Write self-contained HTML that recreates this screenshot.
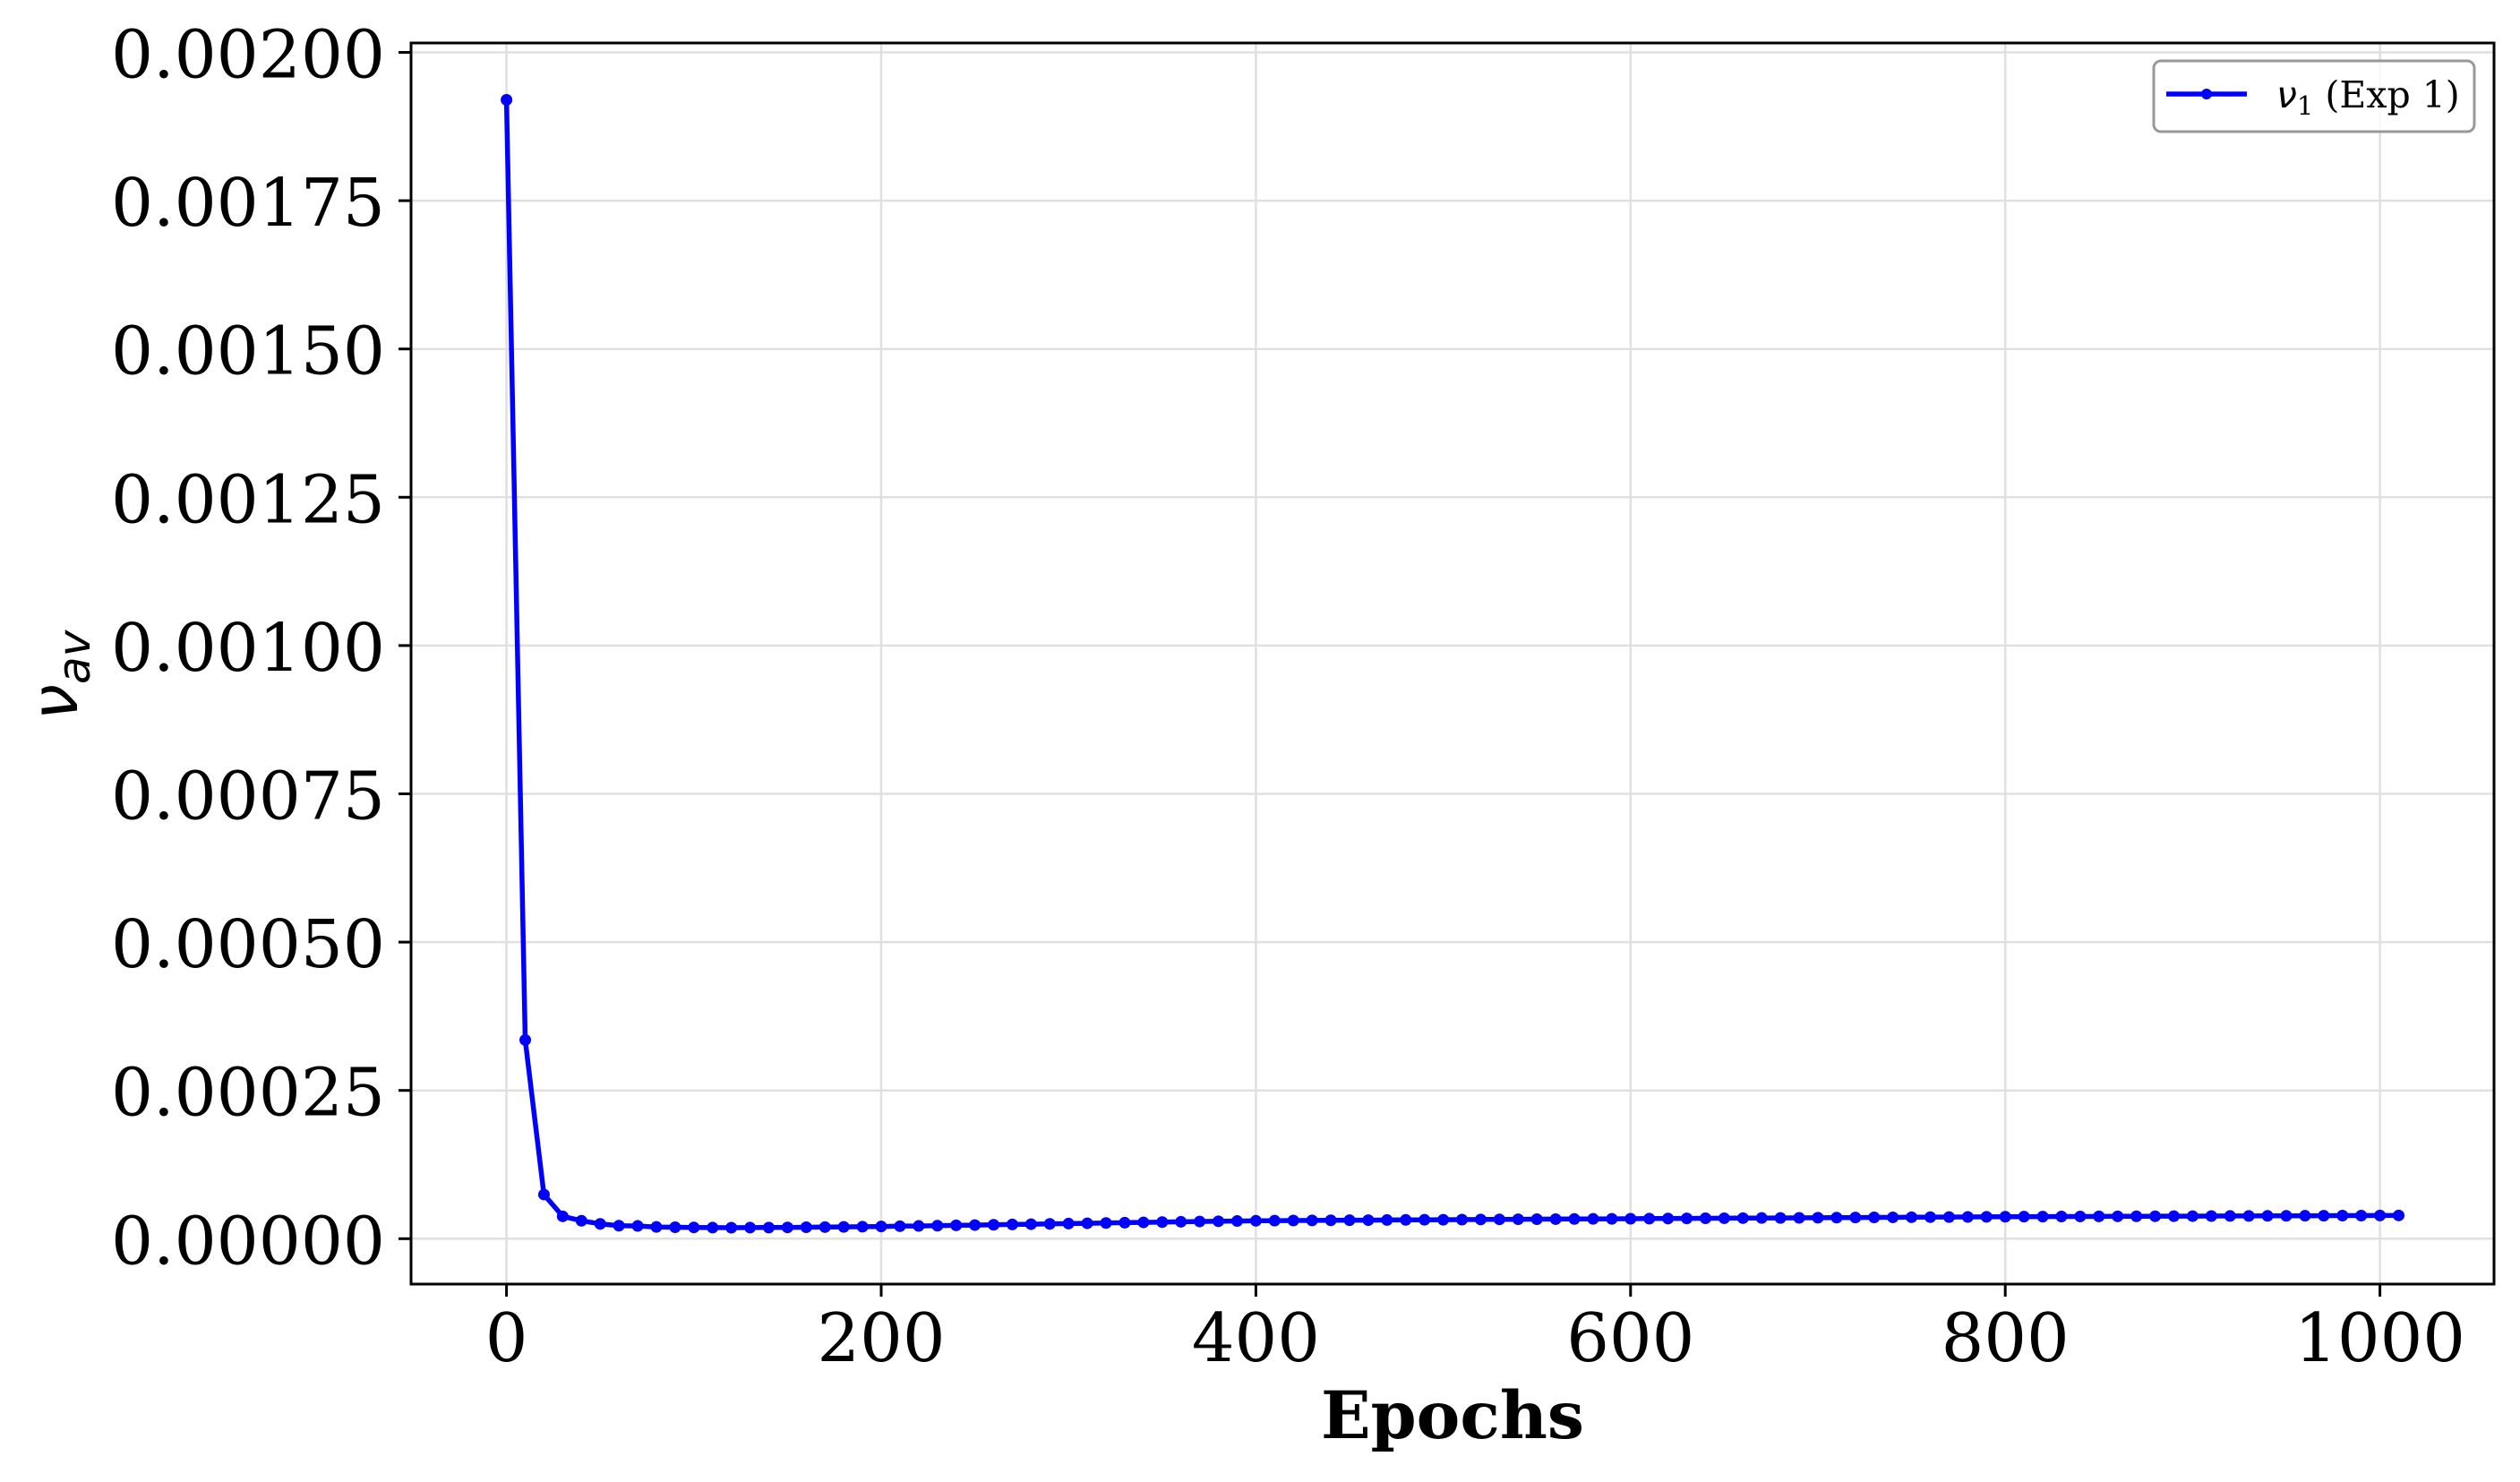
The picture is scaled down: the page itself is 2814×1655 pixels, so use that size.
<!DOCTYPE html>
<html><head><meta charset="utf-8"><style>
html,body{margin:0;padding:0;background:#fff;}
svg{display:block;}
text{font-family:"DejaVu Serif","Liberation Serif",serif;fill:#000;}
</style></head><body>
<svg id="chart" width="2814" height="1655" viewBox="0 0 2814 1655" xmlns="http://www.w3.org/2000/svg">
<rect x="0" y="0" width="2814" height="1655" fill="#fff"/>
<g id="grid"></g>
<g id="series"></g>
<rect x="459" y="48" width="2326" height="1386" fill="none" stroke="#000" stroke-width="3"/>
<g id="xticks"></g>
<g id="yticks"></g>
<text x="1622" y="1606" font-size="73" font-weight="bold" text-anchor="middle">Epochs</text>
<text transform="translate(86,754) rotate(-90)" font-size="72" font-style="italic" text-anchor="middle" style="font-family:'DejaVu Sans',sans-serif">ν<tspan font-size="50" dy="14">av</tspan></text>
<g>
<rect x="2405" y="68" width="358" height="79" rx="8" fill="#fff" fill-opacity="0.8" stroke="#999" stroke-width="3"/>
<line x1="2419" y1="105" x2="2509" y2="105" stroke="#0000ff" stroke-width="5.5"/>
<circle cx="2464" cy="105" r="6" fill="#0000ff"/>
<text x="2542" y="120" font-size="41"><tspan font-style="italic" style="font-family:'DejaVu Sans',sans-serif">ν</tspan><tspan font-size="29" dy="8">1</tspan><tspan dy="-8"> (Exp 1)</tspan></text>
</g>
</svg>
<script>
const epochs = [];
for (let i = 0; i <= 101; i++) epochs.push(i * 10);
const nuValues = [0.00192,0.000335,0.0000745,0.0000377,0.0000302,0.000025,0.000022,0.0000215,0.0000198,0.0000193,
0.000019,0.0000187,0.0000186,0.0000187,0.0000188,0.000019,0.0000193,0.0000196,0.0000199,0.0000202,
0.0000206,0.0000211,0.0000215,0.000022,0.0000225,0.000023,0.0000235,0.000024,0.0000245,0.000025,
0.0000255,0.000026,0.0000265,0.000027,0.0000275,0.000028,0.0000285,0.000029,0.0000294,0.0000298,
0.0000302,0.0000304,0.0000306,0.0000308,0.000031,0.0000312,0.0000313,0.0000315,0.0000317,0.0000319,
0.000032,0.0000322,0.0000324,0.0000326,0.0000328,0.0000329,0.000033,0.0000332,0.0000334,0.0000335,
0.0000337,0.0000339,0.000034,0.0000342,0.0000344,0.0000345,0.0000347,0.0000349,0.000035,0.0000352,
0.0000354,0.0000355,0.0000357,0.0000359,0.000036,0.0000362,0.0000364,0.0000365,0.0000367,0.0000369,
0.0000371,0.0000372,0.0000373,0.0000374,0.0000375,0.0000376,0.0000377,0.0000378,0.0000379,0.000038,
0.0000381,0.0000382,0.0000383,0.0000384,0.0000385,0.0000386,0.0000387,0.0000388,0.0000389,0.000039,
0.0000391,0.0000392];
const xTicks = [0,200,400,600,800,1000];
const xTickLabels = ["0","200","400","600","800","1000"];
const yTicks = [0,0.00025,0.0005,0.00075,0.001,0.00125,0.0015,0.00175,0.002];
const yTickLabels = ["0.00000","0.00025","0.00050","0.00075","0.00100","0.00125","0.00150","0.00175","0.00200"];

const NS = "http://www.w3.org/2000/svg";
const L = 459, R = 2785, T = 48, B = 1434;
function xs(v){ return 565.6 + v * 2.092; }
function ys(v){ return 1383.3 - v * 662400; }
function mk(tag, attrs, parent){
  const e = document.createElementNS(NS, tag);
  for (const k in attrs) e.setAttribute(k, attrs[k]);
  parent.appendChild(e);
  return e;
}
const grid = document.getElementById('grid');
const xg = document.getElementById('xticks');
const yg = document.getElementById('yticks');
xTicks.forEach((t, i) => {
  const x = xs(t);
  const gl = mk('line', {x1:x, x2:x, y1:T, y2:B, stroke:'#e0e0e0', 'stroke-width':2.5}, grid);
  
  
  mk('line', {x1:x, x2:x, y1:B, y2:B+14, stroke:'#000', 'stroke-width':3}, xg);
  const tx = mk('text', {x:x, y:1520, 'font-size':75, 'text-anchor':'middle'}, xg);
  tx.textContent = xTickLabels[i];
  
  
});
yTicks.forEach((t, i) => {
  const y = ys(t);
  const gl = mk('line', {x1:L, x2:R, y1:y, y2:y, stroke:'#e0e0e0', 'stroke-width':2.5}, grid);
  
  
  mk('line', {x1:L-14, x2:L, y1:y, y2:y, stroke:'#000', 'stroke-width':3}, yg);
  const tx = mk('text', {x:430, y:y+28, 'font-size':74, 'text-anchor':'end'}, yg);
  tx.textContent = yTickLabels[i];
  
  
});
const sg = document.getElementById('series');
const pts = epochs.map((e, i) => xs(e).toFixed(1) + ',' + ys(nuValues[i]).toFixed(1)).join(' ');
const pl = mk('polyline', {points:pts, fill:'none', stroke:'#0000ff', 'stroke-width':5.5, 'stroke-linejoin':'round'}, sg);


epochs.forEach((e, i) => {
  const c = mk('circle', {cx:xs(e), cy:ys(nuValues[i]), r:6.5, fill:'#0000ff'}, sg);
  
  
});
</script>
</body></html>
